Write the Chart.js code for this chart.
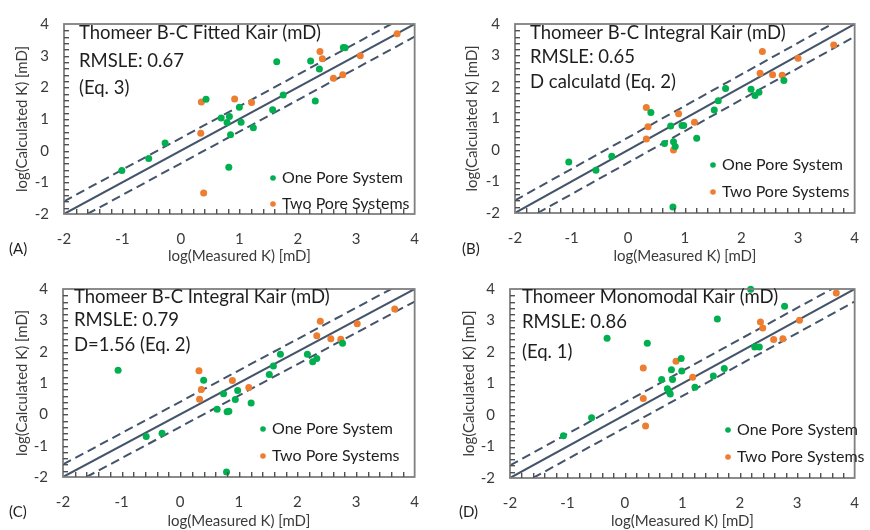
<!DOCTYPE html>
<html>
<head>
<meta charset="utf-8">
<script src="https://cdn.jsdelivr.net/npm/chart.js@4.4.1/dist/chart.umd.min.js"></script>
<style>
    html, body { margin: 0; padding: 0; background: #fff; overflow: hidden; }
    #wrap { position: relative; width: 870px; height: 530px; overflow: hidden; background: #fff; }
    #wrap canvas { position: absolute; }
</style>
</head>
<body>
<div id="wrap">
    <canvas id="chart-a" width="435" height="265" style="left:0;top:0"></canvas>
    <canvas id="chart-b" width="440" height="265" style="left:435px;top:0"></canvas>
    <canvas id="chart-c" width="435" height="265" style="left:0;top:265px"></canvas>
    <canvas id="chart-d" width="440" height="265" style="left:435px;top:265px"></canvas>
</div>
<script>
/***** Data (log10 of permeability, mD) *****/
// (A) Thomeer B-C Fitted Kair
let A_ONE_X = [-1.01, -0.55, -0.27, 0.43, 0.69, 0.79, 0.83, 0.85, 0.82, 1.00, 1.03, 1.24, 1.57, 1.64, 1.75, 2.22, 2.30, 2.37, 2.78, 2.81];
let A_ONE_Y = [-0.63, -0.25, 0.24, 1.62, 1.03, 0.89, 1.08, 0.50, -0.52, 1.37, 0.90, 0.72, 1.29, 2.81, 1.76, 2.83, 1.57, 2.58, 3.26, 3.25];
let A_TWO_X = [0.35, 0.34, 0.39, 0.92, 1.21, 2.38, 2.42, 2.61, 2.77, 3.07, 3.70];
let A_TWO_Y = [1.54, 0.55, -1.34, 1.63, 1.52, 3.13, 2.90, 2.29, 2.40, 3.00, 3.69];

// (B) Thomeer B-C Integral Kair, D calculated
let B_ONE_X = [-1.05, -0.57, -0.29, 0.40, 0.64, 0.75, 0.80, 0.83, 0.79, 0.95, 0.98, 1.21, 1.52, 1.59, 1.72, 2.17, 2.24, 2.31, 2.75];
let B_ONE_Y = [-0.38, -0.64, -0.20, 1.19, 0.21, 0.76, 0.26, 0.11, -1.81, 0.78, 0.78, 0.37, 1.27, 1.56, 1.95, 1.93, 1.73, 1.83, 2.21];
let B_TWO_X = [0.32, 0.35, 0.32, 0.80, 0.89, 1.17, 2.33, 2.37, 2.55, 2.72, 3.00, 3.63];
let B_TWO_Y = [1.35, 0.74, 0.35, 0.00, 1.15, 0.88, 2.44, 3.13, 2.39, 2.37, 2.91, 3.33];

// (C) Thomeer B-C Integral Kair, D=1.56
let C_ONE_X = [-1.06, -0.58, -0.31, 0.40, 0.63, 0.74, 0.80, 0.83, 0.79, 0.94, 0.98, 1.21, 1.52, 1.59, 1.71, 2.17, 2.26, 2.33, 2.77];
let C_ONE_Y = [1.41, -0.71, -0.60, 1.09, 0.16, 0.66, 0.08, 0.10, -1.84, 0.47, 0.76, 0.36, 1.27, 1.54, 1.92, 1.92, 1.68, 1.78, 2.27];
let C_TWO_X = [0.32, 0.36, 0.33, 0.89, 1.17, 2.33, 2.39, 2.57, 2.74, 3.02, 3.66];
let C_TWO_Y = [1.39, 0.79, 0.48, 1.08, 0.86, 2.51, 2.97, 2.41, 2.40, 2.89, 3.36];

// (D) Thomeer Monomodal Kair
let D_ONE_X = [-1.07, -0.58, -0.31, 0.39, 0.64, 0.74, 0.77, 0.79, 0.81, 0.83, 0.98, 0.99, 1.22, 1.54, 1.61, 1.73, 2.19, 2.26, 2.34, 2.78];
let D_ONE_Y = [-0.66, -0.09, 2.44, 2.28, 1.13, 0.83, 0.74, 0.67, 1.44, 1.13, 1.79, 1.40, 0.88, 1.24, 3.05, 1.48, 3.99, 2.16, 2.16, 3.45];
let D_TWO_X = [0.32, 0.32, 0.36, 0.89, 1.18, 2.36, 2.40, 2.59, 2.75, 3.04, 3.68];
let D_TWO_Y = [1.49, 0.52, -0.35, 1.71, 1.20, 2.95, 2.76, 2.40, 2.42, 3.01, 3.87];

let AXIS_MIN = -2;
let AXIS_MAX = 4;
let MINOR_STEP = 0.2;
let BAND = 0.4; //half width of the dashed band around 1:1

let SERIES_NAMES = ["One Pore System", "Two Pore Systems"];
let X_TITLE = "log(Measured K) [mD]";
let Y_TITLE = "log(Calculated K) [mD]";

/***** Styles *****/
let GREEN = "#00B050";
let ORANGE = "#ED7D31";
let LINE_COLOR = "#44546A";
let FRAME_COLOR = "#7F7F7F";
let MINOR_COLOR = "#505050";
let TEXT_COLOR = "#1E1E1E";
let TICK_COLOR = "#3A3A3A";
let FONT = "Lato, 'Open Sans', sans-serif";

Chart.defaults.font.family = FONT;

let PANELS = [
    {
        id: "chart-a", tag: "(A)",
        one: [A_ONE_X, A_ONE_Y], two: [A_TWO_X, A_TWO_Y],
        notes: ["Thomeer B-C Fitted Kair (mD)", "RMSLE: 0.67", "(Eq. 3)"],
        area: {left: 64, right: 418, top: 17, bottom: 214},
        noteX: 79, noteY: [33, 61, 88],
        legendX: 273, legendY: [178, 204],
        tagX: 9, tagY: 249, yTitlePad: 13
    },
    {
        id: "chart-b", tag: "(B)",
        one: [B_ONE_X, B_ONE_Y], two: [B_TWO_X, B_TWO_Y],
        notes: ["Thomeer B-C Integral Kair (mD)", "RMSLE: 0.65", "D calculatd (Eq. 2)"],
        area: {left: 80, right: 437, top: 17, bottom: 213},
        noteX: 95, noteY: [33, 57, 82],
        legendX: 278, legendY: [165, 192],
        tagX: 27, tagY: 249, yTitlePad: 28
    },
    {
        id: "chart-c", tag: "(C)",
        one: [C_ONE_X, C_ONE_Y], two: [C_TWO_X, C_TWO_Y],
        notes: ["Thomeer B-C Integral Kair (mD)", "RMSLE: 0.79", "D=1.56 (Eq. 2)"],
        area: {left: 63, right: 423, top: 14, bottom: 212},
        noteX: 74, noteY: [32, 55, 80],
        legendX: 263, legendY: [164, 191],
        tagX: 9, tagY: 247, yTitlePad: 13
    },
    {
        id: "chart-d", tag: "(D)",
        one: [D_ONE_X, D_ONE_Y], two: [D_TWO_X, D_TWO_Y],
        notes: ["Thomeer Monomodal Kair (mD)", "RMSLE: 0.86", "(Eq. 1)"],
        area: {left: 75, right: 437, top: 14, bottom: 213},
        noteX: 87, noteY: [32, 57, 87],
        legendX: 293, legendY: [165, 192],
        tagX: 24, tagY: 247, yTitlePad: 25
    }
];

function toPoints(xs, ys) {
    let pts = [];
    for (let i = 0; i < xs.length; i++) {
        pts.push({x: xs[i], y: ys[i]});
    }
    return pts;
}

// frame, inner minor ticks, notes, legend and panel letter
function panelDecor(p) {
    return {
        id: "panelDecor",
        afterDraw(chart) {
            let ctx = chart.ctx;
            let a = chart.chartArea;
            let xs = chart.scales.x, ys = chart.scales.y;
            let n = Math.round((AXIS_MAX - AXIS_MIN) / MINOR_STEP);
            ctx.save();
            ctx.setLineDash([]);
            ctx.strokeStyle = FRAME_COLOR;
            ctx.lineWidth = 1.8;
            ctx.strokeRect(a.left, a.top, a.right - a.left, a.bottom - a.top);
            // minor ticks pointing into the plot
            ctx.fillStyle = MINOR_COLOR;
            for (let i = 1; i < n; i++) {
                let v = AXIS_MIN + i * MINOR_STEP;
                let px = Math.round(xs.getPixelForValue(v));
                ctx.fillRect(px, a.bottom - 5, 1.4, 5);
                let py = Math.round(ys.getPixelForValue(v));
                ctx.fillRect(a.left, py, 5, 1.4);
            }

            ctx.fillStyle = TEXT_COLOR;
            ctx.textBaseline = "middle";
            ctx.textAlign = "left";
            ctx.font = "18.5px " + FONT;
            p.notes.forEach(function (txt, i) {
                ctx.fillText(txt, p.noteX, p.noteY[i]);
            });
            // legend
            ctx.font = "16px " + FONT;
            chart.data.datasets.forEach(function (ds, i) {
                if (!ds.inLegend) return;
                let y = p.legendY[i];
                ctx.fillStyle = ds.backgroundColor;
                ctx.beginPath();
                ctx.arc(p.legendX, y, 2.8, 0, Math.PI * 2);
                ctx.fill();
                ctx.fillStyle = TEXT_COLOR;
                ctx.fillText(ds.label, p.legendX + 9, y);
            });
            ctx.font = "15px " + FONT;
            ctx.fillText(p.tag, p.tagX, p.tagY);
            ctx.restore();
        }
    };
}

function drawPanel(p) {
    let canvas = document.getElementById(p.id);
    let W = canvas.width, H = canvas.height;
    let lineBase = {
        type: "line", showLine: true, pointRadius: 0, fill: false,
        borderColor: LINE_COLOR, borderWidth: 2, inLegend: false
    };
    new Chart(canvas, {
        type: "scatter",
        data: {
            datasets: [
                {label: SERIES_NAMES[0], data: toPoints(p.one[0], p.one[1]), backgroundColor: GREEN,
                    borderWidth: 0, pointRadius: 3.5, clip: false, inLegend: true},
                {label: SERIES_NAMES[1], data: toPoints(p.two[0], p.two[1]), backgroundColor: ORANGE,
                    borderWidth: 0, pointRadius: 3.5, clip: false, inLegend: true},
                Object.assign({label: "1:1", data: [{x: AXIS_MIN, y: AXIS_MIN}, {x: AXIS_MAX, y: AXIS_MAX}]}, lineBase),
                Object.assign({label: "+band", borderDash: [9, 5],
                    data: [{x: AXIS_MIN, y: AXIS_MIN + BAND}, {x: AXIS_MAX - BAND, y: AXIS_MAX}]}, lineBase),
                Object.assign({label: "-band", borderDash: [9, 5],
                    data: [{x: AXIS_MIN + BAND, y: AXIS_MIN}, {x: AXIS_MAX, y: AXIS_MAX - BAND}]}, lineBase)
            ]
        },
        options: {
            responsive: false,
            animation: false,
            layout: {padding: {left: 0, top: p.area.top, right: W - p.area.right, bottom: 0}},
            plugins: {legend: {display: false}, tooltip: {enabled: false}},
            scales: {
                x: {
                    type: "linear", min: AXIS_MIN, max: AXIS_MAX,
                    grid: {display: false, drawTicks: false},
                    border: {display: false},
                    ticks: {stepSize: 1, maxRotation: 0, padding: 16,
                        color: TICK_COLOR, font: {size: 15}},
                    title: {display: true, text: X_TITLE, color: TICK_COLOR, font: {size: 15}, padding: 0},
                    afterFit: function (s) { s.height = H - p.area.bottom; }
                },
                y: {
                    type: "linear", min: AXIS_MIN, max: AXIS_MAX,
                    grid: {display: false, drawTicks: false},
                    border: {display: false},
                    ticks: {stepSize: 1, padding: 15,
                        color: TICK_COLOR, font: {size: 15}},
                    title: {display: true, text: Y_TITLE, color: TICK_COLOR, font: {size: 15},
                        padding: {top: p.yTitlePad, bottom: 0}},
                    afterFit: function (s) { s.width = p.area.left; }
                }
            }
        },
        plugins: [panelDecor(p)]
    });
}

PANELS.forEach(drawPanel);
</script>
</body>
</html>
